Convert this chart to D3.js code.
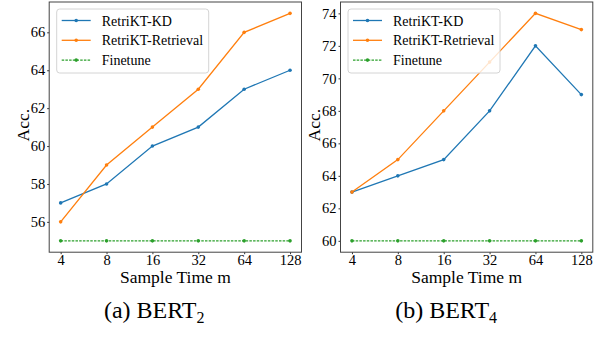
<!DOCTYPE html>
<html lang="en">
<head>
    <meta charset="UTF-8">
    <title>RetriKT sample time</title>
    <script src="https://d3js.org/d3.v7.min.js"></script>
    <style>
        body {
            margin: 0;
            background: #fff;
            font-family: "Liberation Serif", "Times New Roman", serif;
        }
        .tick text {
            font-size: 14.5px;
            fill: #000;
        }
        .tick line {
            stroke: #333;
        }
        .domain {
            display: none;
        }
        .frame {
            fill: none;
            stroke: #444;
            stroke-width: 1;
        }
        .legend-box {
            fill: #fff;
            fill-opacity: 0.8;
            stroke: #d4d4d4;
            stroke-width: 1;
        }
        .legend-text {
            font-size: 14px;
            fill: #000;
        }
        .axis-label {
            font-size: 17.5px;
            fill: #000;
        }
        .caption {
            font-size: 24px;
            fill: #000;
        }
    </style>
</head>
<body>
    <svg id="chart" width="594" height="358"></svg>
    <script>
        // Sample counts on the x axis
        const sampleTimes = [4, 8, 16, 32, 64, 128];
        const seriesNames = ["RetriKT-KD", "RetriKT-Retrieval", "Finetune"];
        const seriesColors = ["#1f77b4", "#ff7f0e", "#2ca02c"];

        // (a) BERT2
        const bert2KD = [57, 58, 60, 61, 63, 64];
        const bert2Retrieval = [56, 59, 61, 63, 66, 67];
        const bert2Finetune = [55, 55, 55, 55, 55, 55];
        const bert2Ticks = [56, 58, 60, 62, 64, 66];

        // (b) BERT4
        const bert4KD = [63, 64, 65, 68, 72, 69];
        const bert4Retrieval = [63, 65, 68, 71, 74, 73];
        const bert4Finetune = [60, 60, 60, 60, 60, 60];
        const bert4Ticks = [60, 62, 64, 66, 68, 70, 72, 74];

        const panels = [
            { label: "(a) BERT", sub: "2", left: 49.2, series: [bert2KD, bert2Retrieval, bert2Finetune], ticks: bert2Ticks },
            { label: "(b) BERT", sub: "4", left: 340.5, series: [bert4KD, bert4Retrieval, bert4Finetune], ticks: bert4Ticks }
        ];

        const plotW = 252.3;
        const plotTop = 2;
        const plotBottom = 252.2;

        const svg = d3.select("#chart");

        panels.forEach(p => {
            const g = svg.append("g");

            // log2 x with matplotlib-like 5% margins
            const x = d3.scaleLog().base(2)
                .domain([4 * Math.pow(2, -0.25), 128 * Math.pow(2, 0.25)])
                .range([p.left, p.left + plotW]);

            const all = p.series.flat();
            const lo = d3.min(all), hi = d3.max(all);
            const pad = (hi - lo) * 0.05;
            const y = d3.scaleLinear()
                .domain([lo - pad, hi + pad])
                .range([plotBottom, plotTop]);

            g.append("g")
                .attr("transform", `translate(0,${plotBottom})`)
                .call(d3.axisBottom(x).tickValues(sampleTimes).tickFormat(d3.format("d")).tickSize(2).tickPadding(1))
                .attr("font-family", null)
                .attr("font-size", null);

            g.append("g")
                .attr("transform", `translate(${p.left},0)`)
                .call(d3.axisLeft(y).tickValues(p.ticks).tickSize(2).tickPadding(2))
                .attr("font-family", null)
                .attr("font-size", null);

            const line = d3.line()
                .x((d, i) => x(sampleTimes[i]))
                .y(d => y(d));

            p.series.forEach((vals, k) => {
                g.append("path")
                    .datum(vals)
                    .attr("fill", "none")
                    .attr("stroke", seriesColors[k])
                    .attr("stroke-width", 1.3)
                    .attr("stroke-dasharray", k === 2 ? "2.5,1.2" : null)
                    .attr("d", line);

                g.selectAll(null)
                    .data(vals)
                    .enter()
                    .append("circle")
                    .attr("cx", (d, i) => x(sampleTimes[i]))
                    .attr("cy", d => y(d))
                    .attr("r", 1.8)
                    .attr("fill", seriesColors[k]);
            });

            g.append("rect")
                .attr("class", "frame")
                .attr("x", p.left)
                .attr("y", plotTop)
                .attr("width", plotW)
                .attr("height", plotBottom - plotTop);

            // Legend
            const lx = p.left + 7.5;
            const lg = g.append("g").attr("transform", `translate(${lx},9)`);
            lg.append("rect")
                .attr("class", "legend-box")
                .attr("width", 152)
                .attr("height", 64)
                .attr("rx", 3);
            seriesNames.forEach((name, k) => {
                const ry = 11.5 + k * 19.8;
                lg.append("line")
                    .attr("x1", 5).attr("x2", 34)
                    .attr("y1", ry).attr("y2", ry)
                    .attr("stroke", seriesColors[k])
                    .attr("stroke-width", 1.3)
                    .attr("stroke-dasharray", k === 2 ? "2.5,1.2" : null);
                lg.append("circle")
                    .attr("cx", 19.5).attr("cy", ry).attr("r", 1.8)
                    .attr("fill", seriesColors[k]);
                lg.append("text")
                    .attr("class", "legend-text")
                    .attr("x", 45)
                    .attr("y", ry + 5)
                    .text(name);
            });

            // Axis labels
            g.append("text")
                .attr("class", "axis-label")
                .attr("x", p.left + plotW / 2)
                .attr("y", 283)
                .attr("text-anchor", "middle")
                .text("Sample Time m");

            g.append("text")
                .attr("class", "axis-label")
                .attr("transform", `translate(${p.left - 20.5},${(plotTop + plotBottom) / 2 - 2}) rotate(-90)`)
                .attr("text-anchor", "middle")
                .text("Acc.");

            // Caption
            const cap = g.append("text")
                .attr("class", "caption")
                .attr("x", p.left + 54.7)
                .attr("y", 318.3);
            cap.append("tspan").text(p.label);
            cap.append("tspan")
                .attr("font-size", 16)
                .attr("dy", 5)
                .text(p.sub);
        });
    </script>
</body>
</html>
